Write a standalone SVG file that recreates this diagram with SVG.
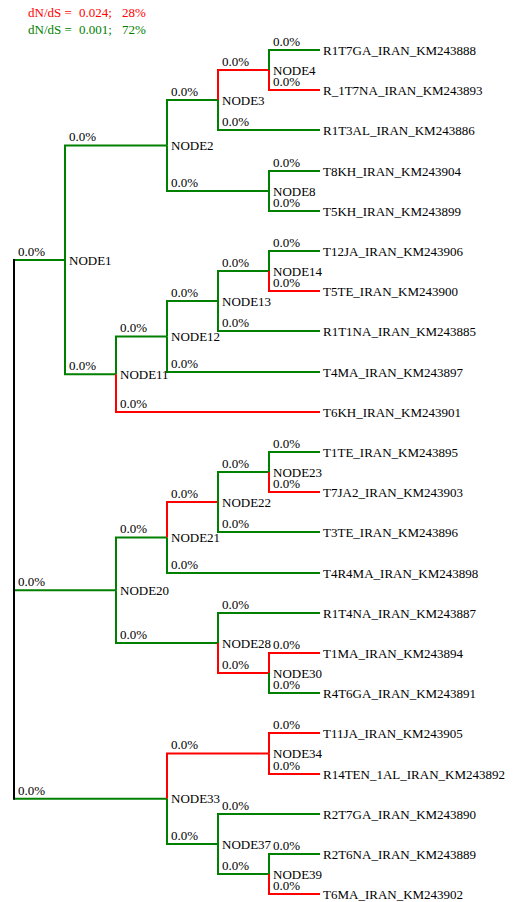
<svg xmlns="http://www.w3.org/2000/svg" width="513" height="902" viewBox="0 0 513 902">
<style>
text{font-family:"Liberation Serif","Times New Roman",serif;font-size:13px;fill:#000}
.g{fill:none;stroke:#008000;stroke-width:2}
.r{fill:none;stroke:#ff0000;stroke-width:2}
.k{fill:none;stroke:#000;stroke-width:2}
.lr{fill:#ff0000}
.lg{fill:#008000}
</style>
<rect width="513" height="902" fill="#fff"/>
<g id="legend">
<text class="lr" x="28" y="17">dN/dS =<tspan x="79">0.024;</tspan><tspan x="122">28%</tspan></text>
<text class="lg" x="28" y="34">dN/dS =<tspan x="79">0.001;</tspan><tspan x="122">72%</tspan></text>
</g>
<g id="connectors">
<path class="g" d="M14,260 H65"/>
<path class="g" d="M14,590.25 H116"/>
<path class="g" d="M14,798.75 H167"/>
<path class="k" d="M14,259 V799.75"/>
<path class="g" d="M65,260 V145.5 H167"/>
<path class="g" d="M65,260 V374.25 H116"/>
<path class="g" d="M167,145.5 V100 H218"/>
<path class="g" d="M167,145.5 V191 H269"/>
<path class="r" d="M218,100 V70 H269"/>
<path class="g" d="M218,100 V130 H320"/>
<path class="g" d="M269,70 V50 H320"/>
<path class="r" d="M269,70 V90 H320"/>
<path class="g" d="M269,191 V171 H320"/>
<path class="g" d="M269,191 V211 H320"/>
<path class="g" d="M116,374.25 V336.5 H167"/>
<path class="r" d="M116,374.25 V412 H320"/>
<path class="g" d="M167,336.5 V301 H218"/>
<path class="g" d="M167,336.5 V372 H320"/>
<path class="g" d="M218,301 V271 H269"/>
<path class="g" d="M218,301 V331 H320"/>
<path class="g" d="M269,271 V251 H320"/>
<path class="r" d="M269,271 V291 H320"/>
<path class="g" d="M116,590.25 V537.5 H167"/>
<path class="g" d="M116,590.25 V643 H218"/>
<path class="r" d="M167,537.5 V502 H218"/>
<path class="g" d="M167,537.5 V573 H320"/>
<path class="g" d="M218,502 V472 H269"/>
<path class="g" d="M218,502 V532 H320"/>
<path class="g" d="M269,472 V452 H320"/>
<path class="r" d="M269,472 V492 H320"/>
<path class="g" d="M218,643 V613 H320"/>
<path class="r" d="M218,643 V673 H269"/>
<path class="r" d="M269,673 V653 H320"/>
<path class="g" d="M269,673 V693 H320"/>
<path class="r" d="M167,798.75 V753.5 H269"/>
<path class="g" d="M167,798.75 V844 H218"/>
<path class="r" d="M269,753.5 V733 H320"/>
<path class="r" d="M269,753.5 V774 H320"/>
<path class="g" d="M218,844 V814 H320"/>
<path class="g" d="M218,844 V874 H269"/>
<path class="g" d="M269,874 V854 H320"/>
<path class="r" d="M269,874 V894 H320"/>
<g id="branch-labels">
<text x="18" y="256">0.0%</text>
<text x="18" y="586">0.0%</text>
<text x="18" y="795">0.0%</text>
<text x="69" y="141">0.0%</text>
<text x="69" y="370">0.0%</text>
<text x="171" y="96">0.0%</text>
<text x="171" y="187">0.0%</text>
<text x="222" y="66">0.0%</text>
<text x="222" y="126">0.0%</text>
<text x="273" y="46">0.0%</text>
<text x="273" y="86">0.0%</text>
<text x="273" y="167">0.0%</text>
<text x="273" y="207">0.0%</text>
<text x="120" y="332">0.0%</text>
<text x="120" y="408">0.0%</text>
<text x="171" y="297">0.0%</text>
<text x="171" y="368">0.0%</text>
<text x="222" y="267">0.0%</text>
<text x="222" y="327">0.0%</text>
<text x="273" y="247">0.0%</text>
<text x="273" y="287">0.0%</text>
<text x="120" y="533">0.0%</text>
<text x="120" y="639">0.0%</text>
<text x="171" y="498">0.0%</text>
<text x="171" y="569">0.0%</text>
<text x="222" y="468">0.0%</text>
<text x="222" y="528">0.0%</text>
<text x="273" y="448">0.0%</text>
<text x="273" y="488">0.0%</text>
<text x="222" y="609">0.0%</text>
<text x="222" y="669">0.0%</text>
<text x="273" y="649">0.0%</text>
<text x="273" y="689">0.0%</text>
<text x="171" y="749">0.0%</text>
<text x="171" y="840">0.0%</text>
<text x="273" y="729">0.0%</text>
<text x="273" y="770">0.0%</text>
<text x="222" y="810">0.0%</text>
<text x="222" y="870">0.0%</text>
<text x="273" y="850">0.0%</text>
<text x="273" y="890">0.0%</text>
</g>
</g>
<g id="NODE1"><text x="69" y="264.5">NODE1</text></g>
<g id="NODE2"><text x="171" y="150">NODE2</text></g>
<g id="NODE3"><text x="222" y="104.5">NODE3</text></g>
<g id="NODE4"><text x="273" y="74.5">NODE4</text></g>
<g id="NODE8"><text x="273" y="195.5">NODE8</text></g>
<g id="NODE11"><text x="120" y="378.5">NODE11</text></g>
<g id="NODE12"><text x="171" y="341">NODE12</text></g>
<g id="NODE13"><text x="222" y="305.5">NODE13</text></g>
<g id="NODE14"><text x="273" y="275.5">NODE14</text></g>
<g id="NODE20"><text x="120" y="594.5">NODE20</text></g>
<g id="NODE21"><text x="171" y="542">NODE21</text></g>
<g id="NODE22"><text x="222" y="506.5">NODE22</text></g>
<g id="NODE23"><text x="273" y="476.5">NODE23</text></g>
<g id="NODE28"><text x="222" y="647.5">NODE28</text></g>
<g id="NODE30"><text x="273" y="677.5">NODE30</text></g>
<g id="NODE33"><text x="171" y="803">NODE33</text></g>
<g id="NODE34"><text x="273" y="758">NODE34</text></g>
<g id="NODE37"><text x="222" y="848.5">NODE37</text></g>
<g id="NODE39"><text x="273" y="878.5">NODE39</text></g>
<g id="leaf-R1T7GA"><text x="323" y="54.5">R1T7GA_IRAN_KM243888</text></g>
<g id="leaf-R_1T7NA"><text x="323" y="94.5">R_1T7NA_IRAN_KM243893</text></g>
<g id="leaf-R1T3AL"><text x="323" y="134.5">R1T3AL_IRAN_KM243886</text></g>
<g id="leaf-T8KH"><text x="323" y="175.5">T8KH_IRAN_KM243904</text></g>
<g id="leaf-T5KH"><text x="323" y="215.5">T5KH_IRAN_KM243899</text></g>
<g id="leaf-T12JA"><text x="323" y="255.5">T12JA_IRAN_KM243906</text></g>
<g id="leaf-T5TE"><text x="323" y="295.5">T5TE_IRAN_KM243900</text></g>
<g id="leaf-R1T1NA"><text x="323" y="335.5">R1T1NA_IRAN_KM243885</text></g>
<g id="leaf-T4MA"><text x="323" y="376.5">T4MA_IRAN_KM243897</text></g>
<g id="leaf-T6KH"><text x="323" y="416.5">T6KH_IRAN_KM243901</text></g>
<g id="leaf-T1TE"><text x="323" y="456.5">T1TE_IRAN_KM243895</text></g>
<g id="leaf-T7JA2"><text x="323" y="496.5">T7JA2_IRAN_KM243903</text></g>
<g id="leaf-T3TE"><text x="323" y="536.5">T3TE_IRAN_KM243896</text></g>
<g id="leaf-T4R4MA"><text x="323" y="577.5">T4R4MA_IRAN_KM243898</text></g>
<g id="leaf-R1T4NA"><text x="323" y="617.5">R1T4NA_IRAN_KM243887</text></g>
<g id="leaf-T1MA"><text x="323" y="657.5">T1MA_IRAN_KM243894</text></g>
<g id="leaf-R4T6GA"><text x="323" y="697.5">R4T6GA_IRAN_KM243891</text></g>
<g id="leaf-T11JA"><text x="323" y="737.5">T11JA_IRAN_KM243905</text></g>
<g id="leaf-R14TEN"><text x="323" y="778.5">R14TEN_1AL_IRAN_KM243892</text></g>
<g id="leaf-R2T7GA"><text x="323" y="818.5">R2T7GA_IRAN_KM243890</text></g>
<g id="leaf-R2T6NA"><text x="323" y="858.5">R2T6NA_IRAN_KM243889</text></g>
<g id="leaf-T6MA"><text x="323" y="898.5">T6MA_IRAN_KM243902</text></g>
</svg>
